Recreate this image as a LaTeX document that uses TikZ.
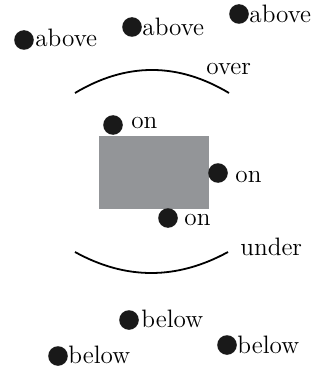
\documentclass[tikz,border=0pt]{standalone}
\begin{document}
\begin{tikzpicture}[x=0.5pt,y=-0.5pt,
  dot/.style={circle,fill=black!90,inner sep=0pt,minimum size=9.8pt},
  lbl/.style={anchor=base west,inner sep=0pt,font=\fontsize{12.6}{14}\selectfont},
  arcline/.style={line width=0.9pt}]
\useasboundingbox (0,0) rectangle (326,369);
\definecolor{boxgray}{RGB}{147,149,152}
% box
\fill[boxgray] (99,136) rectangle (209,209);
% arcs
\draw[arcline] (75,93) .. controls (126.3,62.3) and (177.7,62.3) .. (229,93);
\draw[arcline] (75,252) .. controls (125.7,280) and (176.7,280) .. (228,252);
\node[lbl] (over) at (206,75) {over};
\node[lbl] (under) at (240,255) {under};
% above
\node[dot] (a1) at (24,40) {};
\node[lbl] (ta1) at (35,47) {above};
\node[dot] (a2) at (132,27) {};
\node[lbl] (ta2) at (142,36) {above};
\node[dot] (a3) at (239,14) {};
\node[lbl] (ta3) at (249,23) {above};
% on
\node[dot] (o1) at (113,125) {};
\node[lbl] (to1) at (131,128) {on};
\node[dot] (o2) at (218,173) {};
\node[lbl] (to2) at (235,182) {on};
\node[dot] (o3) at (168,218) {};
\node[lbl] (to3) at (184,225) {on};
% below
\node[dot] (b1) at (129,320) {};
\node[lbl] (tb1) at (141,327) {below};
\node[dot] (b2) at (227,345) {};
\node[lbl] (tb2) at (237,353) {below};
\node[dot] (b3) at (58,356) {};
\node[lbl] (tb3) at (68,363) {below};
\end{tikzpicture}
\end{document}
